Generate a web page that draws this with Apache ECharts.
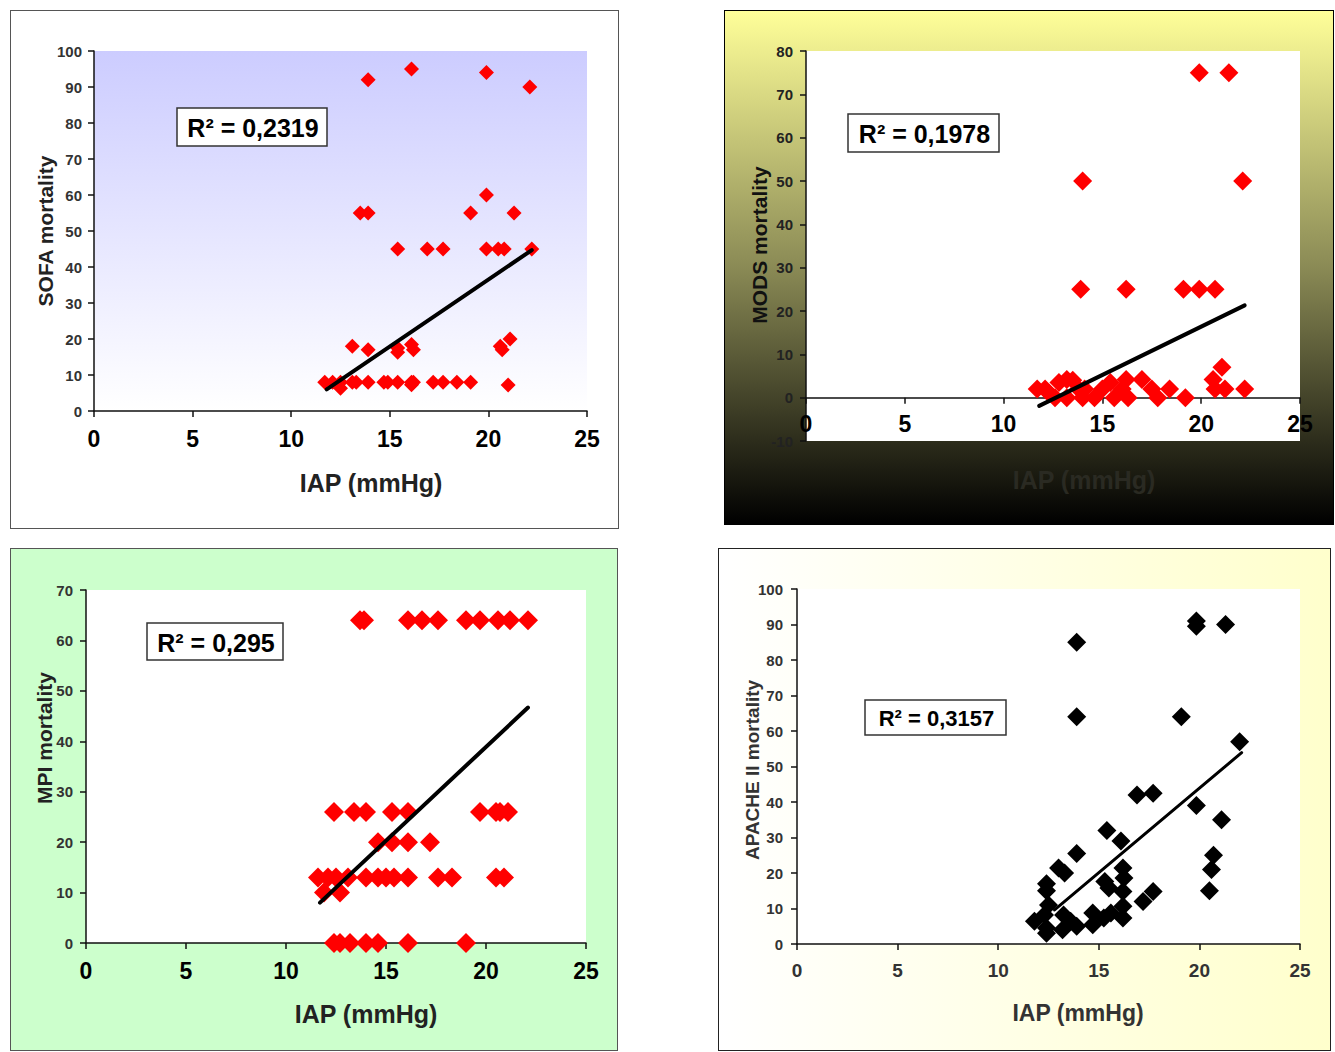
<!DOCTYPE html>
<html><head><meta charset="utf-8">
<script src="https://cdn.jsdelivr.net/npm/echarts@6/dist/echarts.min.js"></script>
<style>
html,body{margin:0;padding:0;background:#fff;width:1335px;height:1052px;overflow:hidden;}
.panel{position:absolute;box-sizing:border-box;border:1px solid #444;}
.chart{position:absolute;left:0;top:0;}
</style></head><body>
<div id="p1" class="panel" style="left:10px;top:10px;width:609px;height:519px;background:#fff;border-color:#555"><div id="c1" class="chart" style="width:607px;height:517px"></div></div>
<div id="p2" class="panel" style="left:724px;top:10px;width:610px;height:515px;background:linear-gradient(to bottom,#ffff99 0%,#8a8a55 50%,#000000 100%);border-color:#000"><div id="c2" class="chart" style="width:608px;height:513px"></div></div>
<div id="p3" class="panel" style="left:10px;top:548px;width:608px;height:503px;background:#ccffcc;border-color:#555"><div id="c3" class="chart" style="width:606px;height:501px"></div></div>
<div id="p4" class="panel" style="left:718px;top:548px;width:613px;height:503px;background:linear-gradient(to right,#ffffff 0%,#ffffcc 100%);border-color:#222"><div id="c4" class="chart" style="width:611px;height:501px"></div></div>
<script>
// ---------- data ----------
const xTicks = [0, 5, 10, 15, 20, 25];

const sofaIAP  = [13.9,16.1,19.9,22.1, 19.9, 13.5,13.9,19.1,21.3, 15.4,16.9,17.7,19.9,20.5,20.8,22.2, 13.1,13.9,15.4,15.4,16.1,16.2,20.6,20.7,21.1, 11.7,12.1,12.5,13.1,13.3,13.9,14.7,14.9,15.4,16.1,16.2,17.2,17.7,18.4,19.1, 12.5,16.1,21.0];
const sofaMort = [92,95,94,90, 60, 55,55,55,55, 45,45,45,45,45,45,45, 18,17,17.5,16.3,18.5,17,18,17,20, 8,8,8,8,8,8,8,8,8,8,8,8,8,8,8, 6.3,7.3,7.2];
const sofaTrendIAP = [11.8, 22.2];
const sofaTrendMort = [6.0, 44.7];
const sofaR2 = 'R² = 0,2319';

const modsIAP  = [19.9,21.4,14.0,22.1, 13.9,16.2,19.1,19.9,20.7, 11.7,12.1,12.8,13.2,13.5,12.6,13.2,14.0,14.1,14.6,15.0,15.4,15.6,16.0,16.2,16.3,17.0,17.5,17.8,18.4,19.2,20.6,21.05,20.7,21.2,22.2, 12.3,13.8];
const modsMort = [75,75,50,50, 25,25,25,25,25, 2,2,3.5,4.2,4,0,0,0,2,0,2,3.5,0,2,4.2,0,4.2,2,0,2,0,4.2,7,2,2,2, 1,2];
const modsTrendIAP = [11.8, 22.2];
const modsTrendMort = [-1.9, 21.3];
const modsR2 = 'R² = 0,1978';

const mpiIAP  = [13.7,13.9,16.1,16.8,17.6,19.0,19.7,20.6,21.2,22.1, 12.4,13.4,14.0,15.3,16.1,19.7,20.5,20.7,21.1, 14.6,15.3,16.1,17.2, 11.6,12.1,12.5,13.1,14.0,14.6,15.0,15.4,16.1,17.6,18.3,20.5,20.9, 11.9,12.7, 12.4,12.7,13.2,14.0,14.6,16.1,19.0];
const mpiMort = [64,64,64,64,64,64,64,64,64,64, 26,26,26,26,26,26,26,26,26, 20,20,20,20, 13,13,13,13,13,13,13,13,13,13,13,13,13, 10,10, 0,0,0,0,0,0,0];
const mpiTrendIAP = [11.7, 22.1];
const mpiTrendMort = [8.0, 46.7];
const mpiR2 = 'R² = 0,295';

const apacheIAP  = [13.9,19.85,19.85,21.3,13.9,19.1,22.0, 16.9,17.7,19.85,21.1,15.4,16.1,13.9,20.7,20.6,20.5, 13.0,13.3,12.4,12.4,16.2,16.25,15.3,15.5,16.2,17.7,17.2,12.5,11.8,12.3,12.4,12.4,13.2,13.25,13.9,14.7,14.7,15.25,15.6,16.2,16.2,13.6];
const apacheMort = [85,91,89.5,90,64,64,57, 42,42.5,39,35,32,29,25.5,25,21,15, 21.4,20,17,15,21.4,18.6,17.6,15.8,14.8,14.8,12,11,6.4,8.2,4.5,3,4,8.2,5,8.7,5.4,7.3,8.7,10.6,7.3,6.4];
const apacheTrendIAP = [12.8, 22.1];
const apacheTrendMort = [9.6, 53.9];
const apacheR2 = 'R² = 0,3157';

// ---------- helpers ----------
const FF = '"Liberation Sans", Arial, sans-serif';
const zip = (a, b) => a.map((v, i) => [v, b[i]]);

function build(id, c) {
  const chart = echarts.init(document.getElementById(id), null, {renderer: 'svg'});
  const axisLine = {lineStyle: {color: '#111', width: 1.5}};
  const axisTick = {length: 6, lineStyle: {color: '#111', width: 1.5}};
  // x axis sits on y = 0 (offset from the bottom edge of the plot if min < 0)
  const xOffset = -c.grid[3] * (0 - c.yMin) / (c.yMax - c.yMin);
  chart.setOption({
    animation: false,
    grid: {left: c.grid[0], top: c.grid[1], width: c.grid[2], height: c.grid[3], show: true,
           backgroundColor: c.plotBg, borderWidth: 0, containLabel: false, outerBoundsMode: 'none'},
    xAxis: {type: 'value', min: xTicks[0], max: xTicks[xTicks.length - 1], interval: xTicks[1] - xTicks[0],
      offset: xOffset,
      axisLine: {onZero: false, lineStyle: axisLine.lineStyle}, axisTick: axisTick, splitLine: {show: false},
      axisLabel: {margin: c.xMargin, fontSize: c.xFont, fontWeight: 'bold', color: c.xColor, fontFamily: FF}},
    yAxis: {type: 'value', min: c.yMin, max: c.yMax, interval: 10,
      axisLine: {onZero: false, lineStyle: axisLine.lineStyle}, axisTick: axisTick, splitLine: {show: false},
      axisLabel: {margin: c.yMargin, fontSize: c.yFont, fontWeight: 'bold', color: c.yColor, fontFamily: FF}},
    series: [
      {type: 'scatter', data: zip(c.x, c.y), symbol: 'diamond', symbolSize: c.sym,
       itemStyle: {color: c.color, opacity: 1}, silent: true, z: 2},
      {type: 'line', data: zip(c.tx, c.ty), symbol: 'none', silent: true, z: 3,
       lineStyle: {color: '#000', width: c.lw, cap: 'round'}}
    ],
    graphic: [
      {type: 'text', x: c.ytitle[1], y: c.ytitle[2], rotation: Math.PI / 2,
       style: {text: c.ytitle[0], font: 'bold ' + c.ytitle[3] + 'px ' + FF, fill: c.titleColor,
               align: 'center', verticalAlign: 'middle', textAlign: 'center', textVerticalAlign: 'middle'}},
      {type: 'text', x: c.xtitle[1], y: c.xtitle[2],
       style: {text: c.xtitle[0], font: 'bold ' + c.xtitle[3] + 'px ' + FF, fill: c.titleColor2 || c.titleColor,
               align: 'center', verticalAlign: 'middle', textAlign: 'center', textVerticalAlign: 'middle'}},
      {type: 'rect', shape: {x: c.box[0], y: c.box[1], width: c.box[2], height: c.box[3]},
       style: {fill: '#fff', stroke: '#333', lineWidth: 1.5}, z: 10},
      {type: 'text', x: c.box[0] + c.box[2] / 2 + 1, y: c.box[1] + c.box[3] / 2 + 1, z: 11,
       style: {text: c.r2, font: 'bold ' + c.r2Font + 'px ' + FF, fill: '#000',
               align: 'center', verticalAlign: 'middle', textAlign: 'center', textVerticalAlign: 'middle'}}
    ]
  });
}

build('c1', {
  grid: [83, 40, 493, 360], yMin: 0, yMax: 100,
  plotBg: {type: 'linear', x: 0, y: 0, x2: 0, y2: 1, colorStops: [{offset: 0, color: '#ccccff'}, {offset: 1, color: '#ffffff'}]},
  xMargin: 16, xFont: 23, xColor: '#000', yMargin: 12, yColor: '#333', yFont: 15,
  x: sofaIAP, y: sofaMort, tx: sofaTrendIAP, ty: sofaTrendMort, color: '#ff0000', sym: 15, lw: 4,
  ytitle: ['SOFA mortality', 34, 220, 21], xtitle: ['IAP (mmHg)', 360, 472, 25], titleColor: '#222',
  box: [166, 97, 150, 38], r2: sofaR2, r2Font: 25
});
build('c2', {
  grid: [81, 40, 494, 390], yMin: -10, yMax: 80,
  plotBg: '#ffffff',
  xMargin: 15, xFont: 23, xColor: '#000', yMargin: 13, yColor: '#222', yFont: 15,
  x: modsIAP, y: modsMort, tx: modsTrendIAP, ty: modsTrendMort, color: '#ff0000', sym: 19, lw: 4,
  ytitle: ['MODS mortality', 34, 234, 21], xtitle: ['IAP (mmHg)', 359, 469, 25], titleColor: '#111', titleColor2: '#2a2a22',
  box: [123, 103, 151, 38], r2: modsR2, r2Font: 25
});
build('c3', {
  grid: [75, 41, 500, 353], yMin: 0, yMax: 70,
  plotBg: '#ffffff',
  xMargin: 16, xFont: 23, xColor: '#000', yMargin: 13, yColor: '#333', yFont: 15,
  x: mpiIAP, y: mpiMort, tx: mpiTrendIAP, ty: mpiTrendMort, color: '#ff0000', sym: 20, lw: 4,
  ytitle: ['MPI mortality', 33, 189, 21], xtitle: ['IAP (mmHg)', 355, 465, 25], titleColor: '#222',
  box: [136, 74, 136, 37], r2: mpiR2, r2Font: 25
});
build('c4', {
  grid: [78, 40, 503, 355], yMin: 0, yMax: 100,
  plotBg: '#ffffff',
  xMargin: 17, xFont: 19, xColor: '#333', yMargin: 14, yColor: '#333', yFont: 15,
  x: apacheIAP, y: apacheMort, tx: apacheTrendIAP, ty: apacheTrendMort, color: '#000000', sym: 19, lw: 3,
  ytitle: ['APACHE II mortality', 33, 221, 19], xtitle: ['IAP (mmHg)', 359, 464, 23], titleColor: '#333',
  box: [146, 151, 141, 35], r2: apacheR2, r2Font: 22
});
</script>
</body></html>
